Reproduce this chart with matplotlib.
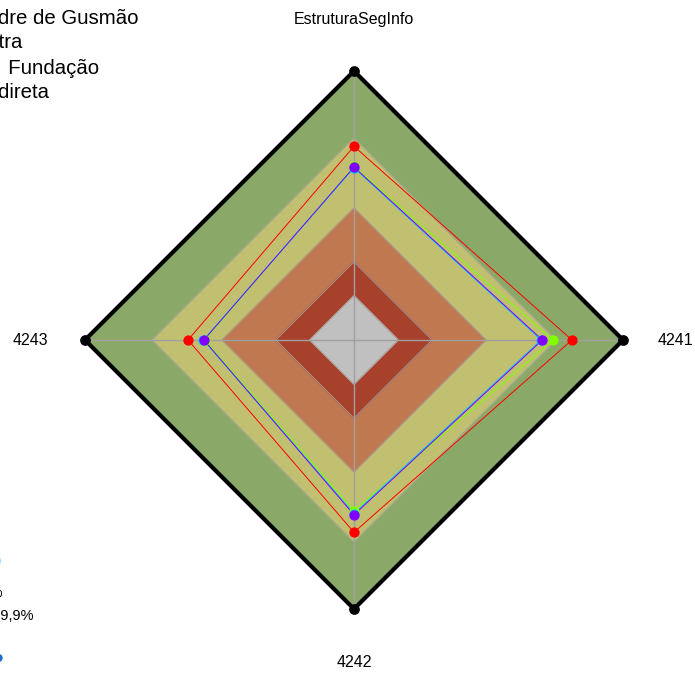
import numpy as np
from matplotlib import pyplot as plt

plt.rcParams['font.family'] = ['Liberation Sans', 'DejaVu Sans']

# axes, clockwise from top
axes_labels = ["EstruturaSegInfo", "4241", "4242", "4243"]
angles = np.deg2rad([90, 0, -90, 180])

# maturity bands (outer limit, 0-100) and colours
band_limits = [100, 75, 49, 29, 16.4]
band_colors = ["#8aa868", "#c0c070", "#c07850", "#a8412c", "#c0c0c0"]

# series values
series_names = ["s1", "s2", "s3", "s4"]
series_colors = ["#ff0000", "#80ff00", "#00c8ff", "#8000ff"]
series_values = [
    [72.0, 81.0, 71.5, 61.7],
    [64.5, 74.0, 63.5, 55.5],
    [64.0, 69.5, 64.5, 56.0],
    [64.3, 70.0, 65.0, 55.8],
]

legend_lines = ["Fundação Alexandre de Gusmão", "Segmento: Outra",
                "Natureza Jurídica:   Fundação", "Administração Indireta"]
legend_right_px = [139, 22, 99, 49]


def xy(vals):
    r = np.asarray(vals, dtype=float) / 100
    x = r * np.cos(angles)
    y = r * np.sin(angles)
    return np.append(x, x[0]), np.append(y, y[0])


fig = plt.figure(figsize=(6.95, 6.75), dpi=100)
ax = fig.add_axes([31.2 / 695, 12.2 / 675, 645.6 / 695, 645.6 / 675])
ax.set_xlim(-1.2, 1.2)
ax.set_ylim(-1.2, 1.2)
ax.axis("off")

for lim, col in zip(band_limits, band_colors):
    x, y = xy([lim] * 4)
    ax.fill(x, y, color=col, zorder=1)
    ax.plot(x, y, color="#a0a0a0", lw=0.6, zorder=2)

for a in angles:
    ax.plot([0, np.cos(a)], [0, np.sin(a)], color="#a0a0a0", lw=1.0, zorder=2)

x, y = xy([100] * 4)
ax.plot(x, y, color="black", lw=3, zorder=5)
ax.scatter(x[:-1], y[:-1], s=45, color="black", zorder=6)

for vals, col in zip(series_values, series_colors):
    x, y = xy(vals)
    ax.plot(x, y, color=col, lw=0.7, zorder=7)
    ax.scatter(x[:-1], y[:-1], s=55, color=col, zorder=8, linewidths=0)

ax.text(0, 1.19, axes_labels[0], ha="center", va="center", fontsize=11.5)
ax.text(1.13, 0, axes_labels[1], ha="left", va="center", fontsize=11.5)
ax.text(0, -1.20, axes_labels[2], ha="center", va="center", fontsize=11.5)
ax.text(-1.135, 0, axes_labels[3], ha="right", va="center", fontsize=11.5)

for i, (txt, xr) in enumerate(zip(legend_lines, legend_right_px)):
    fig.text(xr / 695, 1 - (18 + 25 * i) / 675, txt, ha="right", va="center", fontsize=14.7)

fig.text(3 / 695, 1 - 593 / 675, "Nota 55,0%", ha="right", va="center", fontsize=10.5)
fig.text(33 / 695, 1 - 616 / 675, "Média 59,9%", ha="right", va="center", fontsize=10.5)
fig.patches.append(plt.Circle((-1.5 / 695, 1 - 658 / 675), 3.5 / 695, transform=fig.transFigure,
                              color="#1f6fd0", figure=fig))
fig.patches.append(plt.Circle((-3 / 695, 1 - 561 / 675), 3.5 / 695, transform=fig.transFigure,
                              color="#a0e0ff", figure=fig))

fig.savefig("out.png", dpi=100)
